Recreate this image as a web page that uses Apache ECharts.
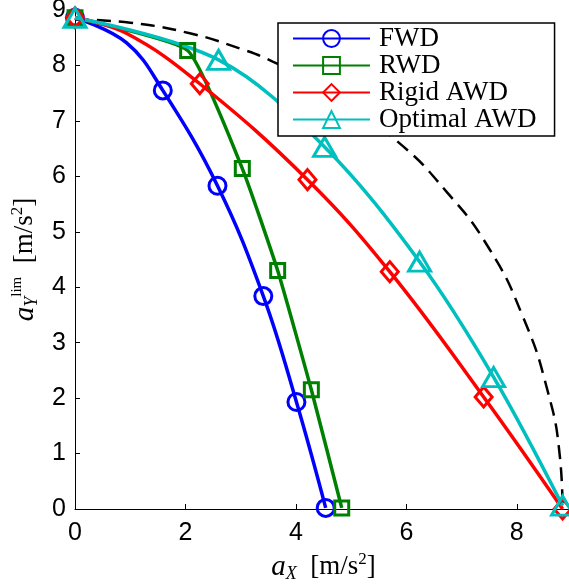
<!DOCTYPE html>
<html>
<head>
<meta charset="utf-8">
<script src="https://cdn.jsdelivr.net/npm/echarts@6/dist/echarts.min.js"></script>
<style>
html, body { margin: 0; padding: 0; background: #fff; }
#main { width: 569px; height: 586px; }
</style>
</head>
<body>
<div id="main"></div>
<script>
// 数据
var seriesNames = ['FWD', 'RWD', 'Rigid AWD', 'Optimal AWD'];
var fwdX = [0, 0.93, 1.59, 2.58, 3.41, 4.01, 4.54];
var fwdY = [8.86, 8.41, 7.55, 5.83, 3.84, 1.93, 0.02];
var fwdMark = [1, 0, 1, 1, 1, 1, 1];
var rwdX = [0, 2.04, 3.03, 3.67, 4.28, 4.83];
var rwdY = [8.86, 8.27, 6.14, 4.30, 2.15, 0.02];
var rwdMark = [1, 1, 1, 1, 1, 1];
var rigidX = [0, 0.93, 2.26, 4.21, 5.70, 7.40, 8.83];
var rigidY = [8.86, 8.58, 7.67, 5.94, 4.28, 2.02, 0];
var rigidMark = [1, 0, 1, 1, 1, 1, 1];
var optX = [0, 2.60, 4.52, 6.24, 7.58, 8.83];
var optY = [8.86, 8.10, 6.53, 4.46, 2.38, 0.06];
var optMark = [1, 1, 1, 1, 1, 1];
// 虚线包络
var envX = [0, 1.0, 2.08, 3.0, 3.58, 4.5, 5.79, 6.73, 7.51, 8.11, 8.54, 8.78, 8.83];
var envY = [8.83, 8.77, 8.58, 8.30, 8.07, 7.60, 6.67, 5.72, 4.68, 3.47, 2.20, 0.95, 0];

function buildData(xs, ys, marks) {
	var out = [];
	for (var i = 0; i < xs.length; i++) {
		var item = { value: [xs[i], ys[i]] };
		if (!marks[i]) item.symbol = 'none';
		out.push(item);
	}
	return out;
}
function pairs(xs, ys) {
	var out = [];
	for (var i = 0; i < xs.length; i++) out.push([xs[i], ys[i]]);
	return out;
}

var myChart = echarts.init(document.getElementById('main'));

function lineSeries(name, data, color, symbol, size, smooth) {
	return {
		name: name,
		type: 'line',
		data: data,
		smooth: smooth,
		clip: false,
		symbol: symbol,
		symbolSize: size,
		showAllSymbol: true,
		lineStyle: { color: color, width: 3.5 },
		itemStyle: { color: 'rgba(255,255,255,0)', borderColor: color, borderWidth: 3 },
		emphasis: { disabled: true }
	};
}

var nameRich = {
	a: { fontFamily: 'Liberation Serif', fontStyle: 'italic', fontSize: 29, lineHeight: 32 },
	sub: { fontFamily: 'Liberation Serif', fontStyle: 'italic', fontSize: 18, verticalAlign: 'bottom', lineHeight: 32, padding: [10, 0, 0, 0] },
	sup: { fontFamily: 'Liberation Serif', fontSize: 17, verticalAlign: 'top', lineHeight: 32, padding: [0, 0, 11, 0] },
	sm: { fontFamily: 'Liberation Serif', fontSize: 15, verticalAlign: 'top', lineHeight: 32, padding: [0, 0, 13, 0] }
};
var axisFont = 'Liberation Sans';
var option = {
	backgroundColor: '#fff',
	animation: false,
	grid: { left: 75, top: 10, width: 497, height: 499, outerBoundsMode: 'none', containLabel: false },
	legend: {
		data: seriesNames,
		orient: 'vertical',
		left: 278,
		top: 23,
		itemWidth: 77,
		itemHeight: 21,
		itemGap: 0,
		padding: [2, 18, 3, 14],
		borderColor: '#000',
		borderWidth: 1.5,
		backgroundColor: '#fff',
		textStyle: { fontFamily: 'Liberation Serif', fontSize: 27, lineHeight: 26.5, color: '#000', padding: [0, 0, 0, 4] }
	},
	xAxis: {
		type: 'value',
		min: 0,
		max: 9,
		interval: 2,
		name: '{a|a}{sub|X}  [m/s{sup|2}]',
		nameLocation: 'middle',
		nameGap: 40,
		nameTextStyle: { fontFamily: 'Liberation Serif', fontSize: 27, lineHeight: 32, color: '#000', rich: nameRich },
		axisLine: { lineStyle: { color: '#000', width: 1 } },
		axisTick: { inside: true, length: 5, lineStyle: { color: '#000' } },
		axisLabel: {
			color: '#000', fontFamily: axisFont, fontSize: 25, margin: 12,
			showMaxLabel: false,
			formatter: function (v) { return v === 9 ? '' : String(v); }
		},
		splitLine: { show: false }
	},
	yAxis: {
		type: 'value',
		min: 0,
		max: 9,
		interval: 1,
		name: '{a|a}{sub|Y}{sm|lim}  [m/s{sup|2}]',
		nameLocation: 'middle',
		nameGap: 33,
		nameTextStyle: { fontFamily: 'Liberation Serif', fontSize: 27, lineHeight: 32, color: '#000', rich: nameRich },
		axisLine: { show: true, lineStyle: { color: '#000', width: 1 } },
		axisTick: { show: true, inside: true, length: 5, lineStyle: { color: '#000' } },
		axisLabel: { color: '#000', fontFamily: axisFont, fontSize: 25, margin: 9 },
		splitLine: { show: false }
	},
	series: [
		{
			name: 'envelope',
			type: 'line',
			data: pairs(envX, envY),
			smooth: true,
			symbol: 'none',
			clip: false,
			lineStyle: { color: '#000', width: 2.5, type: [14, 8] },
			emphasis: { disabled: true }
		},
		lineSeries('FWD', buildData(fwdX, fwdY, fwdMark), '#0000ff', 'circle', 17, 0.4),
		lineSeries('RWD', buildData(rwdX, rwdY, rwdMark), '#008000', 'rect', 14, 0.15),
		lineSeries('Rigid AWD', buildData(rigidX, rigidY, rigidMark), '#ff0000', 'diamond', [17, 20], 0.4),
		lineSeries('Optimal AWD', buildData(optX, optY, optMark), '#00bfbf', 'triangle', [22, 19], 0.35)
	]
};
myChart.setOption(option);
</script>
</body>
</html>
